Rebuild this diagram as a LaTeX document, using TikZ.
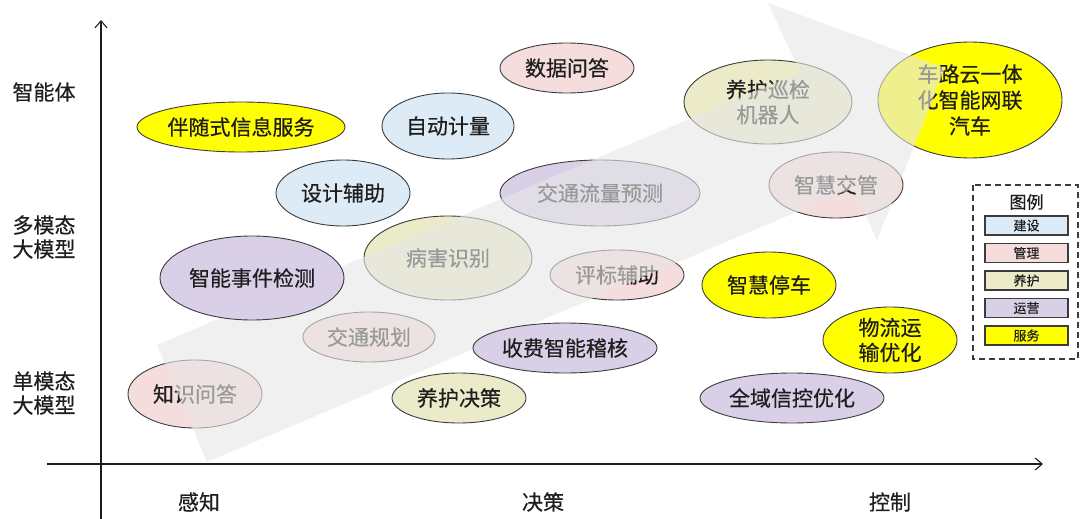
\documentclass[tikz,border=0pt]{standalone}
\usepackage{fontspec}
\setmainfont{Noto Sans CJK SC}[FakeBold=0.5]
\usetikzlibrary{shapes.geometric,arrows.meta}
\definecolor{cjs}{HTML}{DDEBF7}
\definecolor{cgl}{HTML}{F6DDDD}
\definecolor{cyh}{HTML}{EBEBC9}
\definecolor{cyy}{HTML}{D9D0E8}
\definecolor{cfw}{HTML}{FFFF00}
\definecolor{bdr}{HTML}{3C3C3C}
\definecolor{txt}{HTML}{1E1E1E}
\definecolor{arrowgray}{HTML}{E6E6E6}
\tikzset{
  bub/.style={ellipse, draw=bdr, line width=0.9pt, inner sep=0pt, text=txt,
    font=\fontsize{21}{25}\selectfont, align=center},
  axisline/.style={draw=txt, line width=1.3pt, -{Straight Barb[length=7pt,width=12pt,line width=1.1pt]}},
  axlabel/.style={text=txt, font=\fontsize{21}{24}\selectfont, align=center, inner sep=0pt},
  legbox/.style={rectangle, draw=bdr, line width=1.1pt, minimum width=83pt, minimum height=19pt,
    inner sep=0pt, text=txt, font=\fontsize{13}{14}\selectfont},
  legframe/.style={draw=bdr, line width=1.4pt, dash pattern=on 6pt off 4pt},
  bigarrow/.style={fill=arrowgray, fill opacity=0.62}
}
\begin{document}
\begin{tikzpicture}[x=1pt,y=-1pt]
\useasboundingbox (0,0) rectangle (1080,519);
% ellipses lying under the big arrow
\node[bub, fill=cfw, minimum width=208pt, minimum height=50pt] (fw1) at (241,127) {伴随式信息服务};
\node[bub, fill=cjs, minimum width=134pt, minimum height=66pt] (js1) at (343,193) {设计辅助};
\node[bub, fill=cjs, minimum width=132pt, minimum height=66pt] (js2) at (448,126) {自动计量};
\node[bub, fill=cgl, minimum width=134pt, minimum height=50pt] (gl1) at (567,68) {数据问答};
\node[bub, fill=cyy, minimum width=200pt, minimum height=66pt] (yy1) at (600,193) {交通流量预测};
\node[bub, fill=cyh, minimum width=168pt, minimum height=84pt] (yh1) at (448,258) {病害识别};
\node[bub, fill=cgl, minimum width=132pt, minimum height=50pt] (gl2) at (369,337) {交通规划};
\node[bub, fill=cgl, minimum width=134pt, minimum height=50pt] (gl3) at (617,275) {评标辅助};
\node[bub, fill=cyh, minimum width=134pt, minimum height=50pt] (yh2) at (459,398) {养护决策};
\node[bub, fill=cgl, minimum width=134pt, minimum height=68pt] (gl4) at (195,394) {知识问答};
\node[bub, fill=cyh, minimum width=168pt, minimum height=84pt] (yh3) at (768,102) {养护巡检\\机器人};
\node[bub, fill=cfw, minimum width=184pt, minimum height=116pt, font=\fontsize{21}{26}\selectfont] (fw2) at (970,100) {车路云一体\\化智能网联\\汽车};
\node[bub, fill=cgl, minimum width=134pt, minimum height=66pt] (gl5) at (836,185) {智慧交管};
\node[bub, fill=cfw, minimum width=134pt, minimum height=66pt] (fw3) at (769,285) {智慧停车};
\node[bub, fill=cfw, minimum width=134pt, minimum height=66pt] (fw4) at (890,340) {物流运\\输优化};
\node[bub, fill=cyy, minimum width=184pt, minimum height=50pt] (yy2) at (792,398) {全域信控优化};
% big translucent arrow
\fill[bigarrow] (157,345) -- (800,72) -- (768,3) -- (945,68) -- (877,240) -- (853,188) -- (207,462) -- cycle;
% ellipses lying over the arrow
\node[bub, fill=cyy, minimum width=184pt, minimum height=84pt] (yy3) at (252,278) {智能事件检测};
\node[bub, fill=cyy, minimum width=184pt, minimum height=50pt] (yy4) at (565,348) {收费智能稽核};
% axes
\coordinate (ybot) at (101,519);
\coordinate (ytop) at (101,20);
\coordinate (xl) at (47,464);
\coordinate (xr) at (1043,464);
\draw[axisline] (ybot) -- (ytop);
\draw[axisline] (xl) -- (xr);
% axis labels
\node[axlabel] (la1) at (44,92) {智能体};
\node[axlabel] (la2) at (44,237) {多模态\\大模型};
\node[axlabel] (la3) at (44,393) {单模态\\大模型};
\node[axlabel] (lb1) at (199,502) {感知};
\node[axlabel] (lb2) at (543,502) {决策};
\node[axlabel] (lb3) at (890,502) {控制};
% legend
\draw[legframe] (973,185) rectangle (1078,359);
\node[text=txt, font=\fontsize{17}{18}\selectfont, inner sep=0pt] (lt) at (1026.5,202) {图例};
\node[legbox, fill=cjs] (l1) at (1026.5,225.5) {建设};
\node[legbox, fill=cgl] (l2) at (1026.5,253) {管理};
\node[legbox, fill=cyh] (l3) at (1026.5,280.5) {养护};
\node[legbox, fill=cyy] (l4) at (1026.5,308) {运营};
\node[legbox, fill=cfw] (l5) at (1026.5,335.5) {服务};
\end{tikzpicture}
\end{document}
